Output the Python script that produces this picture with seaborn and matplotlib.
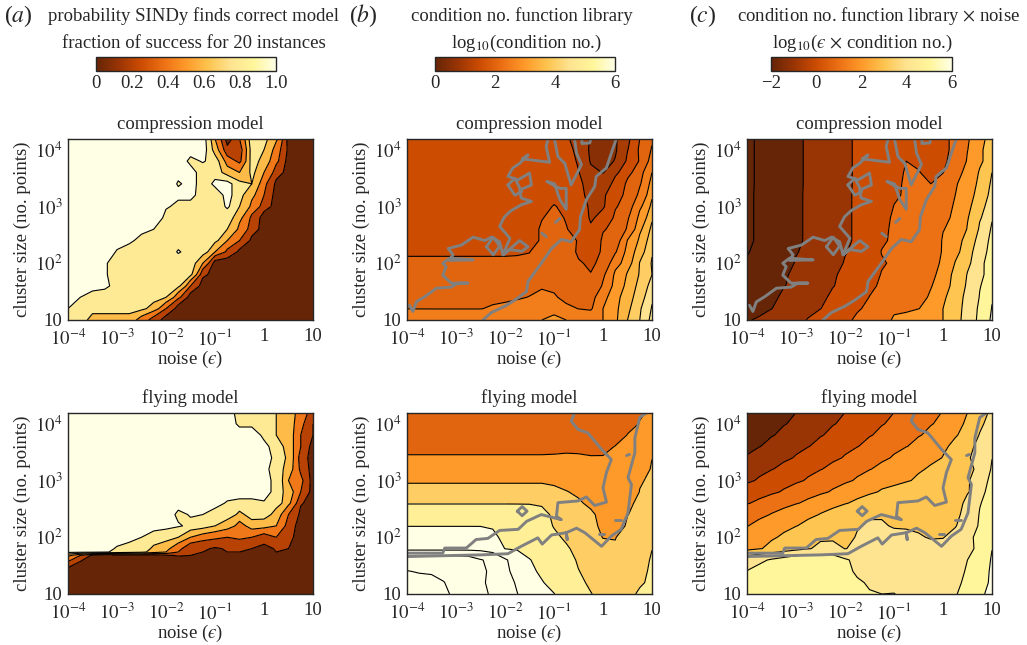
import numpy as np
import seaborn as sns
import matplotlib.pyplot as plt
from matplotlib.cm import ScalarMappable
from matplotlib.colors import Normalize

# log10 of noise and of cluster size, the grid all fields were read on
log_noise = [-4, -3.75, -3.5, -3.25, -3, -2.75, -2.5, -2.25, -2, -1.75, -1.5, -1.25, -1, -0.75, -0.5, -0.25, 0, 0.25, 0.5, 0.75, 1]
log_size = [1, 1.2, 1.4, 1.6, 1.8, 2, 2.2, 2.4, 2.6, 2.8, 3, 3.2, 3.4, 3.6, 3.8, 4, 4.2]
# the flying success map has a sharp edge near 50 points, so two extra rows there
log_size_flying = [1, 1.2, 1.4, 1.6, 1.68, 1.74, 1.8, 2, 2.2, 2.4, 2.6, 2.8, 3, 3.2, 3.4, 3.6, 3.8, 4, 4.2]

success_compression = [
    [.8, .8, .6, .6, .6, .6, .4, .2] + [0] * 13,
    [.9, .8, .8, .8, .8, .8, .75, .6, .3] + [0] * 12,
    [1, .9, .8, .8, .8, .8, .8, .8, .7, .35] + [0] * 11,
    [1, 1, 1, .95, .8, .8, .8, .8, .8, .75, .3] + [0] * 10,
    [1, 1, 1, .92, .8, .8, .8, .8, .8, .8, .75, .15] + [0] * 9,
    [1, 1, 1, .92, .8, .8, .8, .8, .8, .8, .8, .5] + [0] * 9,
    [1, 1, 1, 1, .88, .8, .8, .8, .8, .92, .8, .8, .5, .25, .05] + [0] * 6,
    [1, 1, 1, 1, 1, .95, .8, .85, .8, .8, .8, .8, .75, .5, .3, .05] + [0] * 5,
    [1] * 7 + [.9, .8, .8, .8, .8, .8, .7, .45, .2] + [0] * 5,
    [1] * 8 + [.85, .8, .8, .8, .8, .8, .55, .25] + [0] * 5,
    [1] * 8 + [.92, .85, .85, .8, .8, .93, .7, .45, .2] + [0] * 4,
    [1] * 9 + [.95, .95, .8, .8, .97, .75, .55, .3] + [0] * 4,
    [1] * 9 + [.88, .97, .8, .95, .97, .75, .7, .35, .05] + [0] * 3,
    [1] * 9 + [.97, .97, .8, .8, .6, .5, .75, .5, .2] + [0] * 3,
    [1] * 10 + [.85, .92, .8, .4, .25, .8, .6, .35] + [0] * 3,
    [1] * 12 + [.6, .15, .2, .8, .7, .4, .05, 0, 0],
    [1] * 12 + [.5, 0, .3, .85, .75, .55, 0, 0, 0],
]
success_flying = [
    [0] * 21,
    [0] * 21,
    [0] * 21,
    [.35, .12] + [0] * 19,
    [.55, .3, .05, 0, 0, 0, 0, 0, .08, .12, .1, .05, .05, .08, .08, .05, 0, .05, 0, 0, 0],
    [.95, .95, .95, .92, .85, .8, .75, .6, .5, .3, .13, .1, .07, .1, .1, .08, .03, .1, .06, 0, 0],
    [1, 1, 1, .95, .88, .85, .8, .65, .55, .35, .15, .12, .08, .12, .12, .1, .05, .12, .1, 0, 0],
    [1, 1, 1, 1, 1, .95, .9, .85, .8, .7, .5, .4, .35, .3, .35, .3, .2, .3, .15, 0, 0],
    [1] * 7 + [.95, .95, .92, .85, .8, .7, .6, .42, .6, .58, .5, .2, 0, 0],
    [1] * 9 + [.85, .92, .9, .85, .8, .65, .8, .8, .6, .3, .05, 0],
    [1] * 12 + [.95, .88, .85, .85, .88, .8, .55, .12, 0],
    [1] * 17 + [.8, .6, .3, 0],
    [1] * 16 + [.95, .85, .5, .35, 0],
    [1] * 16 + [.95, .8, .6, .25, 0],
    [1] * 17 + [.82, .65, .2, 0],
    [1] * 16 + [.95, .8, .6, .3, 0],
    [1] * 16 + [.85, .7, .6, .3, .1],
    [1] * 14 + [.85, .85, .8, .7, .6, .35, .1],
    [1] * 14 + [.8, .8, .8, .7, .6, .4, .2],
]
cond_compression = [
    [2.95, 2.85, 2.8, 2.8, 2.8, 2.8, 2.8, 2.82, 2.85, 2.9, 2.95, 3.0, 3.1, 3.0, 2.85, 2.75, 3.0, 3.42, 4.0, 4.5, 5.2],
    [2.49] * 7 + [2.55, 2.6, 2.65, 2.75, 2.85, 2.85, 2.6, 2.49, 2.45, 3.0, 3.4, 3.9, 4.45, 5.05],
    [2.38] * 7 + [2.38, 2.4, 2.45, 2.52, 2.6, 2.55, 2.35, 2.3, 2.35, 2.85, 3.35, 3.8, 4.3, 4.9],
    [2.22] * 7 + [2.22, 2.24, 2.26, 2.3, 2.45, 2.4, 2.2, 2.15, 2.2, 2.55, 3.2, 3.65, 4.2, 4.7],
    [2.17] * 7 + [2.17, 2.18, 2.19, 2.2, 2.3, 2.25, 2.15, 2.05, 2.02, 2.42, 3.1, 3.55, 4.05, 4.5],
    [2.05] * 7 + [2.05, 2.05, 2.05, 2.08, 2.15, 2.2, 2.15, 2.05, 1.9, 2.2, 2.8, 3.3, 4.02, 4.55],
    [1.96] * 7 + [1.96, 1.96, 1.97, 1.99, 2.3, 2.35, 2.25, 1.9, 1.75, 2.1, 2.45, 3.2, 3.8, 4.45],
    [1.88] * 7 + [1.88, 1.88, 1.88, 1.88, 2.05, 2.3, 2.2, 1.95, 1.6, 2.1, 2.25, 3.02, 3.6, 4.35],
    [1.88] * 7 + [1.88, 1.88, 1.88, 1.88, 2.05, 2.2, 2.03, 1.7, 1.55, 1.95, 2.2, 2.55, 3.4, 4.15],
    [1.88] * 7 + [1.88, 1.88, 1.88, 1.88, 1.98, 2.15, 1.95, 1.72, 1.45, 1.65, 2.1, 2.45, 3.15, 3.9],
    [1.88] * 7 + [1.88, 1.88, 1.88, 1.88, 1.92, 2.02, 1.9, 1.75, 1.4, 1.45, 1.95, 2.3, 2.9, 3.65],
    [1.88] * 7 + [1.88, 1.88, 1.88, 1.88, 1.88, 1.88, 1.88, 1.65, 1.3, 1.45, 1.75, 2.2, 2.6, 3.4],
    [1.87] * 13 + [1.85, 1.6, 1.25, 1.25, 1.65, 2.1, 2.45, 3.2],
    [1.87] * 13 + [1.8, 1.52, 1.1, 0.98, 1.4, 1.85, 2.35, 3.0],
    [1.87] * 13 + [1.75, 1.42, 0.95, 0.9, 1.02, 1.6, 2.05, 2.75],
    [1.87] * 13 + [1.65, 1.35, 0.9, 0.85, 0.95, 1.48, 2.1, 2.55],
    [1.87] * 13 + [1.55, 1.3, 0.95, 0.85, 0.95, 1.4, 2.0, 2.4],
]
cond_flying = [
    [9.7, 9.6, 9.4, 9.1, 8.85, 8.55, 8.2, 7.85, 7.4, 7.02, 6.55, 6.25, 6.02, 5.55, 5.2, 5.02, 4.8, 4.7, 4.85, 5.1, 5.3],
    [9.2, 9.2, 9.2, 9.02, 8.7, 8.4, 8.1, 7.8, 7.4, 6.85, 6.4, 6.05, 5.7, 5.35, 5.1, 4.9, 4.7, 4.6, 4.7, 4.9, 5.2],
    [9.02, 8.95, 8.9, 8.8, 8.6, 8.4, 8.15, 7.8, 7.2, 6.6, 6.15, 5.85, 5.6, 5.3, 5.02, 4.75, 4.55, 4.5, 4.6, 4.75, 5.2],
    [8.6, 8.6, 8.6, 8.6, 8.6, 8.5, 8.05, 7.75, 7.1, 6.5, 6.02, 5.8, 5.55, 5.25, 4.9, 4.6, 4.4, 4.4, 4.5, 4.7, 5.1],
    [6.7] * 7 + [6.5, 5.98, 5.9, 5.8, 5.65, 5.4, 5.1, 4.7, 4.45, 4.15, 4.05, 4.25, 4.55, 4.98],
    [6.4] * 6 + [6.35, 6.1, 5.85, 5.8, 5.7, 5.5, 5.15, 4.85, 4.55, 4.2, 3.98, 3.98, 4.3, 4.55, 4.88],
    [5.98] * 7 + [5.95, 5.8, 5.7, 5.6, 5.3, 4.95, 4.7, 4.4, 4.15, 3.85, 3.7, 4.1, 4.35, 4.75],
    [5.55] * 9 + [5.5, 5.4, 5.2, 4.85, 4.6, 4.3, 4.15, 3.65, 3.5, 3.98, 4.3, 4.62],
    [4.95] * 11 + [4.9, 4.6, 4.3, 4.1, 3.8, 3.5, 3.3, 3.85, 4.2, 4.5],
    [4.35] * 12 + [4.2, 4.03, 3.85, 3.65, 3.4, 3.2, 3.4, 4.03, 4.37],
    [3.86] * 12 + [3.8, 3.7, 3.6, 3.4, 3.25, 3.15, 3.4, 3.9, 4.24],
    [3.47] * 14 + [3.42, 3.35, 3.3, 3.2, 3.25, 3.55, 4.11],
    [3.08] * 12 + [3.1, 3.15, 3.12, 3.05, 3.03, 3.2, 3.4, 3.7, 3.98],
    [2.73] * 16 + [2.85, 3.02, 3.3, 3.5, 3.85],
    [2.45] * 16 + [2.45, 2.65, 3.03, 3.3, 3.7],
    [2.2] * 16 + [2.25, 2.45, 2.7, 3.05, 3.55],
    [2.0] * 16 + [2.05, 2.25, 2.5, 2.85, 3.25],
]

# grey outline of the region where SINDy finds the model, as (log noise, log size)
outline_compression = [
    ([-3.95, -3.88, -3.81, -3.64, -3.40, -3.10, -2.96, -2.76, -3.10, -3.27, -3.20, -3.27, -3.13, -2.65, -3.13, -3.06, -3.16, -2.89, -2.65, -2.41, -2.28, -2.11, -2.04, -1.90, -2.11, -2.01, -1.87, -1.67, -1.46, -1.67, -1.70, -1.46, -1.50, -1.73, -1.94, -1.84, -1.70, -1.53, -1.65, -1.09, -1.16, -1.12],
     [1.26, 1.15, 1.32, 1.41, 1.56, 1.58, 1.65, 1.65, 1.65, 1.79, 1.94, 2.00, 2.09, 2.06, 2.05, 2.15, 2.26, 2.32, 2.46, 2.40, 2.46, 2.38, 2.15, 2.44, 2.65, 2.82, 2.93, 3.03, 3.09, 3.15, 3.29, 3.38, 3.59, 3.47, 3.53, 3.68, 3.76, 3.91, 3.84, 3.78, 4.06, 4.19]),
    ([-2.45, -2.28, -2.01, -1.80, -1.56, -1.53, -1.26, -1.05, -0.85, -0.65, -0.48, -0.46, -0.34, -0.17, -0.14, 0.07, 0.17, 0.27],
     [1.00, 1.13, 1.24, 1.35, 1.50, 1.68, 2.00, 2.26, 2.42, 2.38, 2.59, 2.82, 3.12, 3.35, 3.53, 3.68, 3.94, 4.19]),
    ([-0.99, -0.92, -0.78, -0.65, -0.44, -0.54, -0.58], [4.19, 3.88, 3.76, 3.38, 3.74, 3.94, 4.19]),
    ([-0.43, -0.43, -0.27, -0.25], [4.19, 4.11, 4.12, 4.19]),
    ([-1.14, -0.99, -0.88, -0.75, -0.75, -0.88, -1.02, -1.14], [3.44, 3.40, 3.12, 2.95, 3.32, 3.32, 3.38, 3.44]),
    ([-2.04, -1.70, -1.53, -1.66, -1.90, -2.04], [2.15, 2.40, 2.29, 2.21, 2.24, 2.15]),
    ([-2.38, -2.24, -2.11, -2.24, -2.38], [2.29, 2.46, 2.30, 2.15, 2.29]),
    ([-1.94, -1.80, -1.66, -1.80, -1.94], [3.38, 3.50, 3.26, 3.20, 3.38]),
    ([-0.97, -0.88], [2.72, 2.79]),
    ([-1.25, -1.16], [2.53, 2.47]),
]
outline_flying = [
    ([-4.00, -3.27, -3.23, -2.79, -2.59, -2.35, -2.11, -1.73, -1.56, -1.26, -0.85, -0.95, -0.92, -0.51, -0.34, -0.17, 0.07, 0.00, 0.07, 0.17, -0.03, -0.31, -0.51, -0.65, -0.58],
     [1.72, 1.72, 1.81, 1.81, 1.96, 1.98, 2.12, 2.14, 2.28, 2.40, 2.31, 2.37, 2.61, 2.64, 2.71, 2.56, 2.62, 2.87, 3.14, 3.37, 3.55, 3.84, 3.90, 4.05, 4.19]),
    ([-4.00, -2.48, -1.94, -1.67, -1.33, -1.24, -1.05, -0.75, -0.73, -0.75, -0.54, -0.37, -0.03, 0.17, 0.37, 0.51, 0.58, 0.51, 0.65, 0.65, 0.75, 0.88],
     [1.66, 1.69, 1.71, 1.84, 1.99, 1.88, 2.04, 2.08, 1.96, 2.08, 2.16, 2.08, 1.84, 2.02, 2.14, 2.43, 2.93, 3.05, 3.49, 3.75, 4.11, 4.19]),
    ([-1.75, -1.65, -1.55, -1.65, -1.75], [2.46, 2.54, 2.46, 2.38, 2.46]),
    ([-0.09, 0.03], [2.05, 2.05]),
    ([0.25, 0.37], [2.31, 2.31]),
    ([0.48, 0.54], [3.44, 3.46]),
]

x_ticks = [1e-4, 1e-3, 1e-2, 1e-1, 1, 10]
x_tick_labels = ["$10^{-4}$", "$10^{-3}$", "$10^{-2}$", "$10^{-1}$", "1", "10"]
y_ticks = [10, 100, 1000, 10000]
y_tick_labels = ["10", "$10^{2}$", "$10^{3}$", "$10^{4}$"]

sns.set_theme(style="ticks")
plt.rcParams["font.family"] = ["Liberation Serif", "DejaVu Serif"]
plt.rcParams["mathtext.fontset"] = "stix"
plt.rcParams["font.size"] = 13.5

W, H = 1027, 645
fig = plt.figure(figsize=(W / 100, H / 100), dpi=100, facecolor="white")
cmap = sns.blend_palette(["#662506", "#993404", "#cc4c02", "#ec7014", "#fe9929", "#fec44f", "#fee391", "#fff599", "#ffffe5"],
                         as_cmap=True)
FS = 13.5


def px_axes(left, right, top, bottom):
    return fig.add_axes([left / W, 1 - bottom / H, (right - left) / W, (bottom - top) / H])


def field_panel(pos, z, levels, shades, title, outline=None, size_rows=log_size):
    ax = px_axes(*pos)
    xs = 10.0 ** np.array(log_noise)
    ys = 10.0 ** np.array(size_rows)
    ax.contourf(xs, ys, z, levels=levels, colors=[cmap(float(t)) for t in shades])
    ax.contour(xs, ys, z, levels=levels[1:-1], colors="black", linewidths=0.8, negative_linestyles="solid")
    if outline:
        for lx, ly in outline:
            sns.lineplot(x=10.0 ** np.array(lx), y=10.0 ** np.array(ly), sort=False, estimator=None,
                         color="#808080", lw=2.1, ax=ax, legend=False)
    ax.set_xscale("log")
    ax.set_yscale("log")
    ax.set_xlim(1e-4, 10)
    ax.set_ylim(10, 10 ** 4.19)
    ax.set_xticks(x_ticks, x_tick_labels)
    ax.set_yticks(y_ticks, y_tick_labels)
    ax.xaxis.set_minor_locator(plt.LogLocator(base=10, subs=range(2, 10), numticks=12))
    ax.yaxis.set_minor_locator(plt.LogLocator(base=10, subs=range(2, 10), numticks=12))
    ax.xaxis.set_minor_formatter(plt.NullFormatter())
    ax.yaxis.set_minor_formatter(plt.NullFormatter())
    ax.tick_params(which="major", direction="in", top=True, right=True, length=3.5, width=0.7, labelsize=FS)
    ax.tick_params(axis="x", which="major", pad=6)
    ax.tick_params(axis="y", which="major", pad=4)
    ax.tick_params(which="minor", direction="in", top=True, right=True, length=1.8, width=0.5)
    for s in ax.spines.values():
        s.set_linewidth(1.0)
    ax.set_xlabel("noise ($\u03f5$)", fontsize=FS, labelpad=0)
    ax.set_ylabel("cluster size (no. points)", fontsize=FS, labelpad=3)
    ax.set_title(title, fontsize=FS, pad=7)
    return ax


def colour_bar(left, right, vmin, vmax, ticks, labels):
    cax = px_axes(left, right, 57, 71)
    cb = fig.colorbar(ScalarMappable(Normalize(vmin, vmax), cmap), cax=cax, orientation="horizontal")
    cb.set_ticks(ticks, labels=labels)
    cb.ax.tick_params(labelsize=FS, length=0, pad=3)
    cb.outline.set_linewidth(1.0)


col_left = [68, 407, 747]
col_right = [313, 652, 992]
rows = [(139, 320), (413, 594)]
titles = ["compression model", "flying model"]

success_levels = [-1, .1, .3, .5, .7, .9, 2]
success_shades = [0, .2, .4, .6, .8, 1]
cond_levels_comp = [-1, 1, 1.5, 2, 2.5, 3, 3.5, 4, 4.5, 5, 12]
cond_shades_comp = [.083, 1 / 6, .25, 2 / 6, 2.5 / 6, .5, 3.5 / 6, 4 / 6, .75, 5 / 6]
cond_levels_fly = [-1, 3, 4, 5, 6, 7, 8, 9, 12]
cond_shades_fly = [2 / 6, .5, 4 / 6, 5 / 6, 1, 1, 1, 1]
noise_levels = [-9, -2, -1, 0, 1, 2, 3, 4, 5, 6, 12]
noise_shades = [0, 0, .125, .25, .375, .5, .625, .75, .875, 1]

# panel c is panel b times the noise
noise_grid = np.array(log_noise)[None, :]
noise_compression = np.array(cond_compression) + noise_grid
noise_flying = np.array(cond_flying) + noise_grid

for r, pair in enumerate(rows):
    pos = (col_left[0], col_right[0]) + pair
    field_panel(pos, np.array([success_compression, success_flying][r]), success_levels, success_shades, titles[r],
                size_rows=[log_size, log_size_flying][r])
    pos = (col_left[1], col_right[1]) + pair
    z = np.array([cond_compression, cond_flying][r])
    lv, sh = [(cond_levels_comp, cond_shades_comp), (cond_levels_fly, cond_shades_fly)][r]
    field_panel(pos, z, lv, sh, titles[r], [outline_compression, outline_flying][r])
    pos = (col_left[2], col_right[2]) + pair
    field_panel(pos, [noise_compression, noise_flying][r], noise_levels, noise_shades, titles[r],
                [outline_compression, outline_flying][r])

colour_bar(96, 276, 0, 1, [0, .2, .4, .6, .8, 1], ["0", "0.2", "0.4", "0.6", "0.8", "1.0"])
colour_bar(435, 615, 0, 6, [0, 2, 4, 6], ["0", "2", "4", "6"])
colour_bar(771, 952, -2, 6, [-2, 0, 2, 4, 6], ["\u22122", "0", "2", "4", "6"])


def px_text(x, y, s, **kw):
    fig.text(x / W, 1 - y / H, s, ha=kw.pop("ha", "center"), va="center", fontsize=kw.pop("fontsize", FS), **kw)


px_text(194, 16, "probability SINDy finds correct model")
px_text(194, 43, "fraction of success for 20 instances")
px_text(522, 16, "condition no. function library")
px_text(526, 43, r"log$_{10}$(condition no.)")
px_text(879, 16, r"condition no. function library $\times$ noise")
px_text(862, 43, "log$_{10}$($\u03f5$ $\\times$ condition no.)")
px_text(4, 16, r"($\mathit{a}$)", ha="left", fontsize=17)
px_text(349, 16, r"($\mathit{b}$)", ha="left", fontsize=17)
px_text(689, 16, r"($\mathit{c}$)", ha="left", fontsize=17)

fig.savefig("out.png", dpi=100)
